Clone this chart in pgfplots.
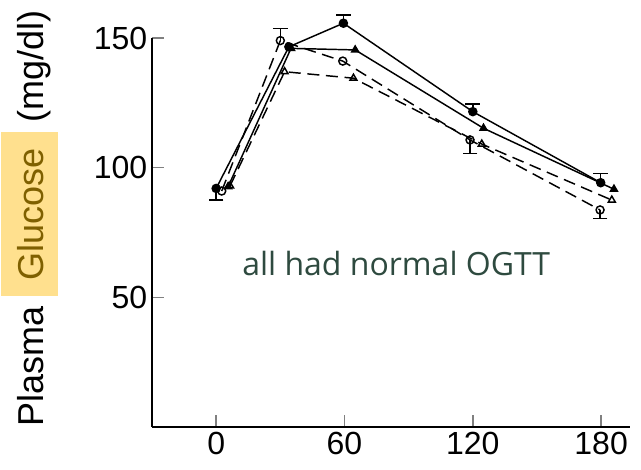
\documentclass[border=0pt]{standalone}
\usepackage{pgfplots}
\pgfplotsset{compat=1.18}
\usepackage{fontspec}
\setmainfont{Liberation Sans}
\newfontfamily\osans{Open Sans}
\definecolor{hlyellow}{HTML}{FFE08E}
\definecolor{hltext}{HTML}{7F6000}
\definecolor{notegreen}{HTML}{2E4A3F}
\newcommand{\hlbox}[1]{{\setlength{\fboxsep}{0pt}\colorbox{hlyellow}{\hspace{12pt}\rule[-10.5pt]{0pt}{43pt}\textcolor{hltext}{#1}\hspace{12pt}}}}

\begin{document}
\begin{tikzpicture}
\begin{axis}[
    name=ax, at={(0,0)}, anchor=south west,
    scale only axis,
    width=358.5pt, height=291.75pt,
    xmin=-30, xmax=193.5,
    ymin=0, ymax=150,
    clip=false,
    axis x line=bottom, axis y line=left,
    axis line style={-, line width=1.4pt},
    xtick={0,60,120,180}, ytick={50,100,150},
    tick align=inside,
    major tick length=9pt,
    tick style={line width=1.2pt},
    /pgf/number format/assume math mode=true,
    ticklabel style={font=\fontsize{24}{28}\selectfont},
    ylabel={Plasma \hlbox{Glucose} (mg/dl)},
    ylabel style={at={(axis description cs:-0.226,0.537)}, anchor=base,
        font=\fontsize{27}{31}\selectfont},
    every axis plot/.append style={black, line width=1.1pt, mark size=3pt},
]
% solid, filled circles
\addplot[solid, mark=*] coordinates {(0,92) (34,146.6) (59.5,155.7) (120,121.6) (179.8,94.2)};
% solid, filled triangles
\addplot[solid, mark=triangle*] coordinates {(5.6,92.7) (35,146) (65,145.4) (125,115.2) (186,91.7)};
% dashed, open circles
\addplot[dash pattern=on 9pt off 5pt, mark=o, mark options={solid, fill=white}] coordinates {(2.6,91) (30,149) (59.2,141.1) (118.7,110.7) (179.5,83.7)};
% dashed, open triangles
\addplot[dash pattern=on 9pt off 5pt, mark=triangle, mark options={solid, fill=white}] coordinates {(6.5,93) (32,137) (64.2,134.5) (124.2,109.1) (185,87.5)};
% error bars (upper)
\addplot[draw=none, mark=none, forget plot, error bars/.cd, y dir=plus, y explicit,
    error bar style={line width=1.1pt}, error mark options={rotate=90, mark size=5.5pt, line width=1.1pt}]
    coordinates {(59.5,155.7) +- (0,3.2) (120,121.6) +- (0,3.0) (179.8,94.2) +- (0,3.6) (30,149) +- (0,4.7)};
% error bars (lower)
\addplot[draw=none, mark=none, forget plot, error bars/.cd, y dir=minus, y explicit,
    error bar style={line width=1.1pt}, error mark options={rotate=90, mark size=5.5pt, line width=1.1pt}]
    coordinates {(118.7,110.7) +- (0,5.2) (179.5,83.7) +- (0,3.2) (0,92) +- (0,4.5)};
\node[anchor=base, text=notegreen, font=\osans\fontsize{24}{28}\selectfont] at (axis cs:84.2,58.5) {all had normal OGTT};
\end{axis}
\pgfresetboundingbox
\path[use as bounding box] (-114pt,-31.5pt) rectangle (366.75pt,320.25pt);
\end{tikzpicture}
\end{document}
